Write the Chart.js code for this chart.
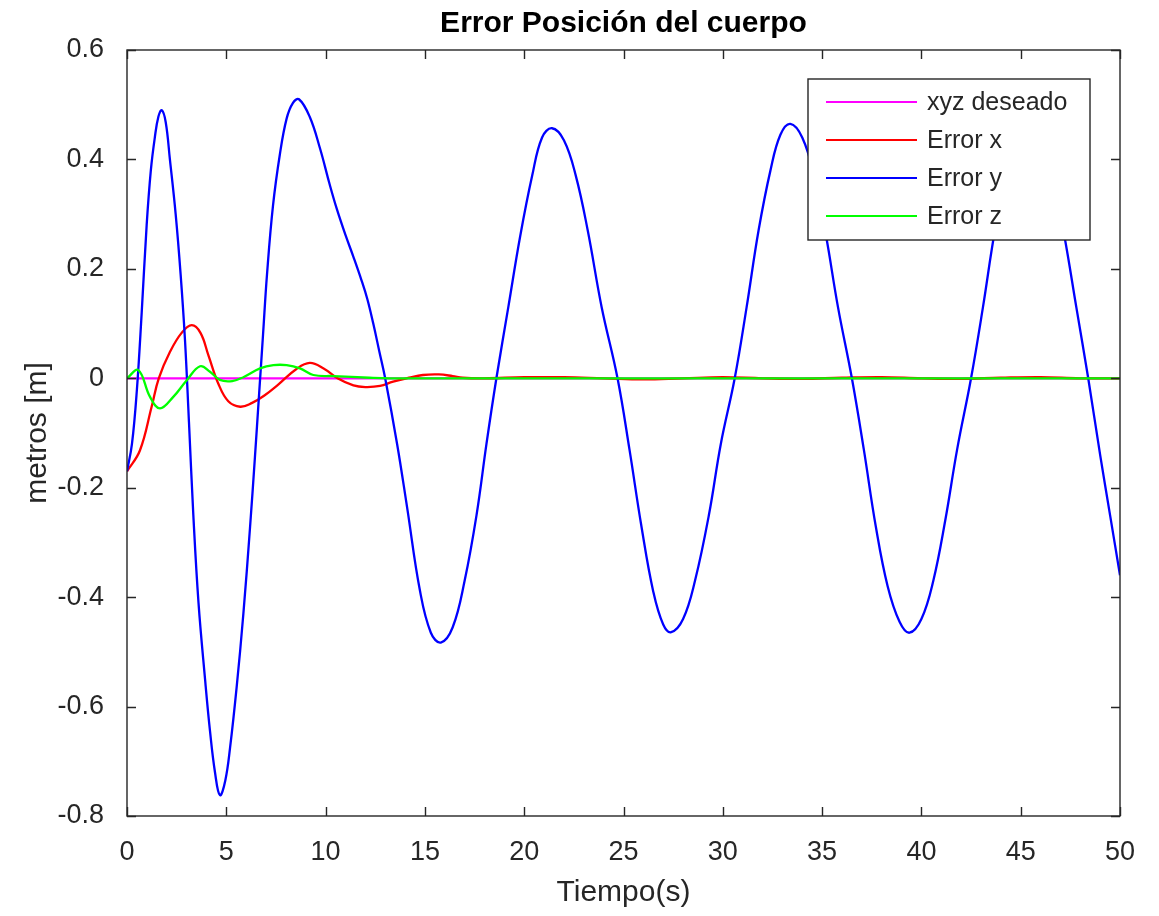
<!DOCTYPE html>
<html>
<head>
<meta charset="utf-8">
<title>Error Posición del cuerpo</title>
<script src="https://cdn.jsdelivr.net/npm/chart.js@4/dist/chart.umd.min.js"></script>
<style>
  body { margin: 0; background: #fff; }
  #wrap { width: 1159px; height: 916px; }
</style>
</head>
<body>
<div id="wrap"><canvas id="myChart" width="1159" height="916"></canvas></div>
<script>
// data (time in s, error in m)
const tDeseado = [0, 50];
const xyzDeseado = [0, 0];

const tErrX = [0, 0.65, 1.24, 1.6, 2.16, 2.75, 3.26, 3.7, 4.1, 4.6, 5.1, 5.7, 6.3, 6.9, 7.6, 8.5, 9.2, 9.9, 10.6, 11.4, 12.0, 12.74, 13.4, 14.2, 14.9, 15.7, 16.4, 16.9,
                18, 20, 22, 24, 26, 28, 30, 32, 34, 36, 38, 40, 42, 44, 46, 48, 50];
const errX = [-0.17, -0.132, -0.052, 0, 0.048, 0.083, 0.097, 0.083, 0.042, -0.01, -0.042, -0.052, -0.045, -0.032, -0.012, 0.016, 0.028, 0.018, 0, -0.013, -0.016, -0.014, -0.006, 0.001, 0.006, 0.007, 0.004, 0.001,
              0, 0.002, 0.002, 0, -0.002, 0, 0.002, 0, -0.001, 0.001, 0.002, 0, -0.001, 0.001, 0.002, 0, 0];

const tErrY = [0, 0.25, 0.5, 0.74, 0.99, 1.2, 1.4, 1.58, 1.75, 1.95, 2.16, 2.45, 2.7, 2.92, 3.12, 3.34, 3.6, 3.93, 4.18, 4.43, 4.68, 4.95, 5.19, 5.52, 5.86, 6.19, 6.44, 6.65,
               6.85, 7.05, 7.35, 7.7, 8.04, 8.35, 8.66, 9.2, 9.72, 10.2, 10.56, 11.0, 11.4, 11.8, 12.1, 12.4, 12.7, 13.0,
               13.6, 14.1, 14.75, 15.3, 15.8, 16.4, 17.0, 17.6, 18.1, 18.6,
               19.2, 19.8, 20.4, 20.9, 21.4, 22.0, 22.6, 23.2, 23.9, 24.7,
               25.3, 25.9, 26.5, 27.0, 27.4, 28.0, 28.6, 29.3, 29.9, 30.6,
               31.2, 31.8, 32.4, 32.9, 33.4, 34.0, 34.6, 35.2, 35.8, 36.5,
               37.1, 37.7, 38.3, 38.9, 39.4, 40.0, 40.6, 41.2, 41.8, 42.5,
               43.1, 43.7, 44.3, 44.9, 45.4, 46.0, 46.6, 47.2, 47.8, 48.4,
               49.0, 49.5, 50];
const errY = [-0.17, -0.12, -0.02, 0.12, 0.28, 0.38, 0.44, 0.478, 0.49, 0.468, 0.40, 0.30, 0.19, 0.07, -0.08, -0.25, -0.41, -0.55, -0.645, -0.72, -0.762, -0.735, -0.675, -0.565, -0.43, -0.275, -0.145, -0.03,
              0.08, 0.19, 0.315, 0.41, 0.475, 0.503, 0.51, 0.478, 0.42, 0.355, 0.31, 0.262, 0.222, 0.18, 0.145, 0.1, 0.05, 0,
              -0.12, -0.235, -0.388, -0.465, -0.483, -0.455, -0.37, -0.25, -0.12, 0,
              0.13, 0.26, 0.37, 0.44, 0.457, 0.435, 0.37, 0.27, 0.13, 0,
              -0.13, -0.27, -0.39, -0.45, -0.464, -0.44, -0.37, -0.25, -0.12, 0,
              0.13, 0.27, 0.38, 0.445, 0.465, 0.44, 0.37, 0.26, 0.13, 0,
              -0.13, -0.27, -0.38, -0.445, -0.465, -0.44, -0.37, -0.26, -0.13, 0,
              0.13, 0.27, 0.38, 0.445, 0.465, 0.44, 0.37, 0.26, 0.13, 0,
              -0.14, -0.25, -0.36];

const tErrZ = [0, 0.57, 1.16, 1.66, 2.33, 3.0, 3.68, 4.18, 4.68, 5.3, 5.86, 6.7, 7.37, 8.04, 8.71, 9.38, 10.4, 12.2, 13.2, 50];
const errZ = [0, 0.015, -0.034, -0.055, -0.034, -0.004, 0.022, 0.012, -0.003, -0.005, 0.002, 0.018, 0.024, 0.024, 0.018, 0.006, 0.004, 0.001, 0, 0];

const xTicks = [0, 5, 10, 15, 20, 25, 30, 35, 40, 45, 50];
const xTickLabels = ['0', '5', '10', '15', '20', '25', '30', '35', '40', '45', '50'];
const yTicks = [-0.8, -0.6, -0.4, -0.2, 0, 0.2, 0.4, 0.6];
const yTickLabels = ['-0.8', '-0.6', '-0.4', '-0.2', '0', '0.2', '0.4', '0.6'];

const FONT = "'Liberation Sans', Arial, Helvetica, sans-serif";
const INK = '#262626';

function pts(ts, vs) {
    return ts.map((t, i) => ({ x: t, y: vs[i] }));
}

// box round the axes with inward ticks on all four sides
const axesBox = {
    id: 'axesBox',
    afterDraw(chart) {
        const { ctx, chartArea: a, scales } = chart;
        ctx.save();
        ctx.strokeStyle = INK;
        ctx.lineWidth = 1.4;
        ctx.strokeRect(a.left, a.top, a.right - a.left, a.bottom - a.top);
        const len = 9;
        ctx.beginPath();
        scales.x.ticks.forEach(tk => {
            const px = Math.round(scales.x.getPixelForValue(tk.value)) + 0.5;
            ctx.moveTo(px, a.bottom); ctx.lineTo(px, a.bottom - len);
            ctx.moveTo(px, a.top); ctx.lineTo(px, a.top + len);
        });
        scales.y.ticks.forEach(tk => {
            const py = Math.round(scales.y.getPixelForValue(tk.value)) + 0.5;
            ctx.moveTo(a.left, py); ctx.lineTo(a.left + len, py);
            ctx.moveTo(a.right, py); ctx.lineTo(a.right - len, py);
        });
        ctx.stroke();
        ctx.restore();
    }
};

// legend in a framed box inside the top right of the axes
const boxLegend = {
    id: 'boxLegend',
    afterDraw(chart) {
        const { ctx, chartArea: a } = chart;
        const x0 = a.right - 312, y0 = a.top + 29, w = 282, h = 161;
        ctx.save();
        ctx.fillStyle = '#fff';
        ctx.fillRect(x0, y0, w, h);
        ctx.strokeStyle = INK;
        ctx.lineWidth = 1.4;
        ctx.strokeRect(x0, y0, w, h);
        ctx.font = '25px ' + FONT;
        ctx.textBaseline = 'middle';
        ctx.fillStyle = INK;
        chart.data.datasets.forEach((ds, i) => {
            const y = y0 + 23 + i * 38;
            ctx.strokeStyle = ds.borderColor;
            ctx.lineWidth = 2.2;
            ctx.beginPath();
            ctx.moveTo(x0 + 18, y);
            ctx.lineTo(x0 + 109, y);
            ctx.stroke();
            ctx.fillText(ds.label, x0 + 119, y + 1);
        });
        ctx.restore();
    }
};

const ctx = document.getElementById('myChart').getContext('2d');
window.myChart = new Chart(ctx, {
    type: 'line',
    data: {
        datasets: [
            { label: 'xyz deseado', data: pts(tDeseado, xyzDeseado), borderColor: '#ff00ff', order: 4 },
            { label: 'Error x', data: pts(tErrX, errX), borderColor: '#ff0000', order: 3 },
            { label: 'Error y', data: pts(tErrY, errY), borderColor: '#0000ff', order: 2 },
            { label: 'Error z', data: pts(tErrZ, errZ), borderColor: '#00ff00', order: 1 }
        ]
    },
    options: {
        responsive: false,
        animation: false,
        layout: { padding: { left: 0, right: 39, top: 0, bottom: 0 } },
        elements: {
            point: { radius: 0 },
            line: { borderWidth: 2.3, tension: 0.4, fill: false }
        },
        plugins: {
            legend: { display: false },
            tooltip: { enabled: false },
            title: {
                display: true,
                text: 'Error Posición del cuerpo',
                fullSize: false,
                color: '#000',
                font: { family: FONT, size: 30, weight: 'bold', lineHeight: 1.2 },
                padding: { top: 6, bottom: 8 }
            }
        },
        scales: {
            x: {
                type: 'linear',
                min: 0, max: 50,
                afterBuildTicks: s => { s.ticks = xTicks.map(v => ({ value: v })); },
                afterFit: s => { s.height = 100; },
                grid: { display: false },
                border: { display: false },
                ticks: {
                    color: INK,
                    font: { family: FONT, size: 27 },
                    padding: 12,
                    maxRotation: 0,
                    callback: v => xTickLabels[xTicks.indexOf(v)]
                },
                title: {
                    display: true,
                    text: 'Tiempo(s)',
                    color: INK,
                    font: { family: FONT, size: 30, lineHeight: 1.2 },
                    padding: { top: 0, bottom: 5 }
                }
            },
            y: {
                type: 'linear',
                min: -0.8, max: 0.6,
                afterBuildTicks: s => { s.ticks = yTicks.map(v => ({ value: v })); },
                afterFit: s => { s.width = 127; },
                grid: { display: false },
                border: { display: false },
                ticks: {
                    color: INK,
                    font: { family: FONT, size: 27 },
                    padding: 15,
                    callback: v => yTickLabels[yTicks.findIndex(t => Math.abs(t - v) < 1e-9)]
                },
                title: {
                    display: true,
                    text: 'metros [m]',
                    color: INK,
                    font: { family: FONT, size: 30, lineHeight: 1.2 },
                    padding: { top: 20, bottom: 0 }
                }
            }
        }
    },
    plugins: [axesBox, boxLegend]
});
</script>
</body>
</html>
